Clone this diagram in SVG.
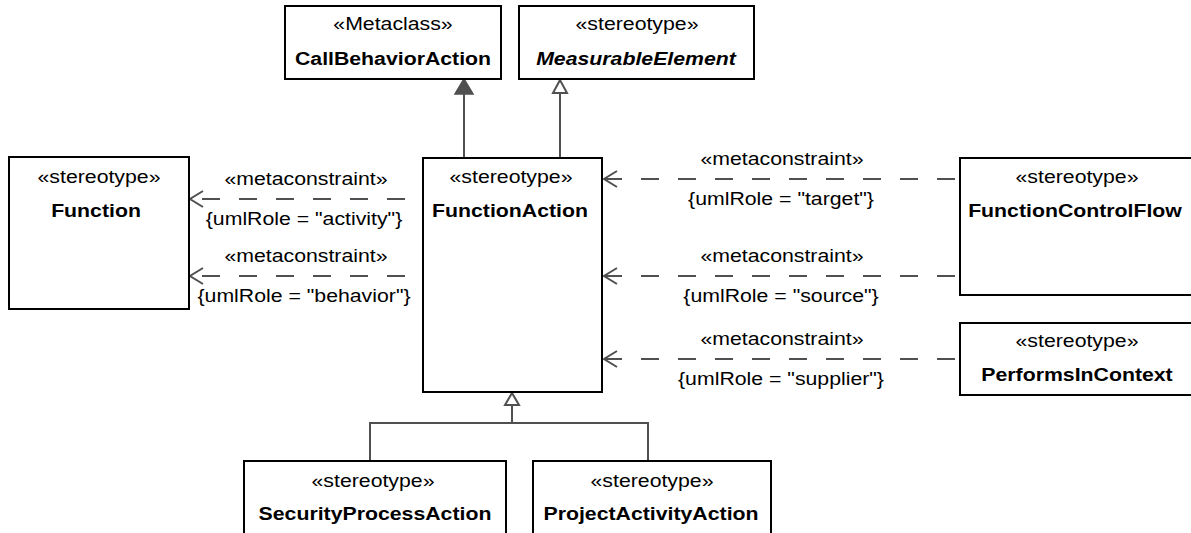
<svg xmlns="http://www.w3.org/2000/svg" width="1191" height="533" viewBox="0 0 1191 533">
<style>
.box{fill:#fff;stroke:#000;stroke-width:2}
.t{font-family:"Liberation Sans",Arial,sans-serif;font-size:18.5px;fill:#000;text-anchor:middle}
.b{font-weight:bold}
.bi{font-weight:bold;font-style:italic}
.gen{fill:none;stroke:#505050;stroke-width:2}
.dep{fill:none;stroke:#505050;stroke-width:2;stroke-dasharray:18 19}
.head{fill:none;stroke:#505050;stroke-width:2}
</style>
<rect width="1191" height="533" fill="#fff"/>
<g id="connectors">
  <!-- FunctionAction -> CallBehaviorAction (extension, filled) -->
  <line class="gen" x1="464" y1="158" x2="464" y2="93"/>
  <polygon points="464,79 455,94 473,94" fill="#505050" stroke="#505050" stroke-width="1.5"/>
  <!-- FunctionAction -> MeasurableElement (generalization) -->
  <line class="gen" x1="560" y1="158" x2="560" y2="93"/>
  <polygon points="560,80 553,93 567,93" fill="#fff" stroke="#505050" stroke-width="2"/>
  <!-- subclasses -> FunctionAction -->
  <polyline class="gen" points="370,461 370,423 648,423 648,461"/>
  <line class="gen" x1="512" y1="423" x2="512" y2="405"/>
  <polygon points="512,393 505,405 519,405" fill="#fff" stroke="#505050" stroke-width="2"/>
  <!-- left metaconstraints -->
  <path class="dep" d="M405,199 H190"/>
  <path class="head" d="M203,191 L190,199 L203,207"/>
  <path class="dep" d="M405,276 H190"/>
  <path class="head" d="M203,268 L190,276 L203,284"/>
  <!-- right metaconstraints -->
  <path class="dep" d="M604,179 H960"/>
  <path class="head" d="M617,171 L604,179 L617,187"/>
  <path class="dep" d="M604,276 H960"/>
  <path class="head" d="M617,268 L604,276 L617,284"/>
  <path class="dep" d="M604,359 H960"/>
  <path class="head" d="M617,351 L604,359 L617,367"/>
  <!-- labels -->
  <text class="t" transform="translate(306,185) scale(1.15,1)">«metaconstraint»</text>
  <text class="t" transform="translate(304,225) scale(1.15,1)">{umlRole = "activity"}</text>
  <text class="t" transform="translate(306,262) scale(1.15,1)">«metaconstraint»</text>
  <text class="t" transform="translate(304,302) scale(1.15,1)">{umlRole = "behavior"}</text>
  <text class="t" transform="translate(782,165) scale(1.15,1)">«metaconstraint»</text>
  <text class="t" transform="translate(781,205) scale(1.15,1)">{umlRole = "target"}</text>
  <text class="t" transform="translate(782,262) scale(1.15,1)">«metaconstraint»</text>
  <text class="t" transform="translate(781,302) scale(1.15,1)">{umlRole = "source"}</text>
  <text class="t" transform="translate(782,345) scale(1.15,1)">«metaconstraint»</text>
  <text class="t" transform="translate(781,385) scale(1.15,1)">{umlRole = "supplier"}</text>
</g>
<g id="CallBehaviorAction">
  <rect class="box" x="285" y="6" width="216" height="73"/>
  <text class="t" transform="translate(393,30) scale(1.15,1)">«Metaclass»</text>
  <text class="t b" transform="translate(393,65) scale(1.15,1)">CallBehaviorAction</text>
</g>
<g id="MeasurableElement">
  <rect class="box" x="519" y="6" width="235" height="73"/>
  <text class="t" transform="translate(637,30) scale(1.15,1)">«stereotype»</text>
  <text class="t bi" transform="translate(636,65) scale(1.15,1)">MeasurableElement</text>
</g>
<g id="Function">
  <rect class="box" x="9" y="157" width="180" height="152"/>
  <text class="t" transform="translate(99,183) scale(1.15,1)">«stereotype»</text>
  <text class="t b" transform="translate(96,217) scale(1.15,1)">Function</text>
</g>
<g id="FunctionAction">
  <rect class="box" x="423" y="158" width="179" height="234"/>
  <text class="t" transform="translate(511,183) scale(1.15,1)">«stereotype»</text>
  <text class="t b" transform="translate(510,217) scale(1.15,1)">FunctionAction</text>
</g>
<g id="FunctionControlFlow">
  <rect class="box" x="960" y="158" width="240" height="137"/>
  <text class="t" transform="translate(1077,183) scale(1.15,1)">«stereotype»</text>
  <text class="t b" transform="translate(1075,217) scale(1.15,1)">FunctionControlFlow</text>
</g>
<g id="PerformsInContext">
  <rect class="box" x="960" y="323" width="240" height="72"/>
  <text class="t" transform="translate(1077,347) scale(1.15,1)">«stereotype»</text>
  <text class="t b" transform="translate(1077,381) scale(1.15,1)">PerformsInContext</text>
</g>
<g id="SecurityProcessAction">
  <rect class="box" x="244" y="461" width="262" height="80"/>
  <text class="t" transform="translate(373,487) scale(1.15,1)">«stereotype»</text>
  <text class="t b" transform="translate(375,520) scale(1.15,1)">SecurityProcessAction</text>
</g>
<g id="ProjectActivityAction">
  <rect class="box" x="533" y="461" width="238" height="80"/>
  <text class="t" transform="translate(652,487) scale(1.15,1)">«stereotype»</text>
  <text class="t b" transform="translate(651,520) scale(1.15,1)">ProjectActivityAction</text>
</g>
</svg>
